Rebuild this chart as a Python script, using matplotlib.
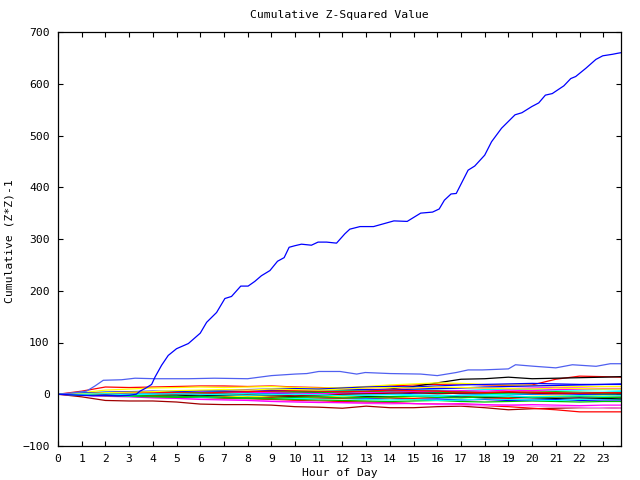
import matplotlib
matplotlib.use("Agg")
import matplotlib.pyplot as plt

# hourly grid shared by the small "band" series
HOURS = list(range(24)) + [23.75]

# the big blue outlier
BIG_X = [0, 0.5, 1, 1.5, 2, 2.5, 3, 3.3, 3.46, 3.67, 3.95, 4.09, 4.37, 4.65, 5.0, 5.5,
         6.0, 6.27, 6.69, 7.04, 7.32, 7.71, 8.02, 8.3, 8.58, 8.94, 9.26, 9.54, 9.75, 9.99,
         10.27, 10.69, 10.97, 11.33, 11.75, 12.1, 12.31, 12.74, 13.31, 14.17, 14.73, 15.3,
         15.8, 16.08, 16.3, 16.58, 16.8, 17.3, 17.58, 18.0, 18.29, 18.71, 19.28, 19.57,
         19.99, 20.28, 20.56, 20.85, 21.34, 21.63, 21.84, 22.27, 22.69, 22.98, 23.4, 23.62,
         23.75]
BIG_Y = [0, -1, -2, -3, -2, -3, -2, 0, 6, 11, 19, 33, 56, 75, 88, 98,
         118, 139, 158, 185, 189, 209, 209, 218, 229, 239, 257, 264, 284, 287,
         290, 288, 294, 294, 292, 310, 319, 324, 324, 335, 334, 350,
         352, 358, 375, 387, 388, 433, 441, 462, 488, 514, 540, 544,
         556, 563, 578, 581, 596, 610, 614, 630, 647, 654, 657, 659,
         660]

# the light blue line sitting above the band
LB_X = [0, 0.5, 1.2, 1.56, 1.91, 2.68, 3.25, 4.09, 5.5, 6.6, 8.0, 9.0, 10.0, 10.5, 11.0,
        11.9, 12.6, 12.96, 14.0, 15.3, 16.0, 16.8, 17.3, 17.9, 19.0, 19.3, 20.1, 21.0,
        21.7, 22.7, 23.3, 23.75]
LB_Y = [0, 2, 6, 16, 27, 28, 31, 30, 30, 31, 30, 36, 39, 40, 44,
        44, 39, 42, 40, 39, 36, 42, 47, 47, 49, 57, 54, 51,
        57, 54, 59, 59]

# the band of stations near zero, one list per station (values at HOURS)
BAND = [
    ("#ff0000", [0, 6, 14, 13, 14, 15, 16, 16, 15, 16, 14, 13, 12, 14, 16, 18, 19, 20, 18, 17, 18, 29, 35, 34, 33]),
    ("#000000", [0, 1, 2, 1, 0, 1, 2, 3, 2, 3, 4, 5, 6, 8, 10, 15, 22, 29, 30, 33, 30, 31, 32, 33, 34]),
    ("#ffff00", [0, 3, 8, 10, 12, 13, 14, 13, 14, 15, 13, 12, 13, 15, 18, 20, 22, 21, 19, 18, 17, 16, 15, 15, 15]),
    ("#0000ff", [0, 2, 3, 4, 5, 4, 6, 8, 9, 10, 11, 10, 12, 14, 15, 14, 16, 18, 19, 20, 21, 20, 19, 19, 19]),
    ("#ff00ff", [0, 1, 3, 5, 4, 6, 5, 7, 8, 6, 7, 8, 9, 10, 9, 11, 12, 13, 12, 11, 12, 13, 12, 11, 11]),
    ("#00ffff", [0, 2, 4, 3, 5, 6, 7, 6, 5, 6, 8, 7, 6, 7, 8, 9, 8, 7, 9, 10, 9, 8, 8, 9, 8]),
    ("#00c000", [0, 1, 2, 3, 2, 1, 3, 4, 5, 4, 3, 5, 6, 5, 4, 6, 7, 5, 4, 3, 4, 5, 4, 3, 4]),
    ("#a00000", [0, -5, -12, -13, -13, -15, -19, -20, -20, -21, -24, -25, -27, -23, -26, -26, -24, -23, -26, -30, -28, -27, -26, -26, -27]),
    ("#ff0000", [0, -1, -2, -3, -4, -5, -6, -8, -9, -10, -12, -13, -14, -15, -16, -18, -19, -20, -22, -24, -27, -30, -34, -34, -34]),
    ("#ff80ff", [0, -1, -3, -4, -6, -8, -9, -10, -11, -13, -14, -15, -17, -18, -19, -18, -20, -21, -22, -21, -23, -24, -25, -26, -27]),
    ("#ff00ff", [0, -2, -4, -5, -7, -8, -10, -11, -12, -14, -15, -16, -16, -17, -17, -18, -19, -18, -20, -21, -20, -21, -22, -21, -21]),
    ("#00c000", [0, -1, -2, -4, -5, -6, -6, -7, -8, -9, -10, -11, -12, -13, -14, -13, -12, -14, -15, -14, -13, -14, -15, -14, -14]),
    ("#0000ff", [0, -1, -2, -2, -3, -4, -3, -5, -6, -5, -7, -6, -8, -9, -8, -10, -9, -11, -10, -12, -11, -10, -12, -11, -11]),
    ("#00ffff", [0, 0, -1, -3, -2, -4, -5, -6, -5, -7, -8, -9, -8, -10, -11, -10, -12, -11, -9, -10, -11, -12, -10, -9, -10]),
    ("#ff0000", [0, 1, 0, -1, -2, -3, -2, -4, -5, -6, -5, -7, -8, -6, -7, -8, -6, -5, -7, -8, -6, -5, -4, -5, -5]),
    ("#ffff00", [0, -1, -2, -1, -3, -2, -4, -3, -5, -4, -6, -5, -4, -6, -7, -5, -4, -3, -5, -6, -4, -3, -2, -3, -2]),
    ("#000000", [0, -1, -1, -2, -1, -2, -3, -2, -1, -3, -4, -3, -2, -4, -5, -4, -3, -5, -6, -5, -7, -8, -7, -8, -9]),
    ("#0000ff", [0, 1, 1, 2, 1, 0, -1, 0, 1, 2, 1, 3, 2, 1, 0, 2, 3, 1, 0, -1, 0, 1, 0, 0, 0]),
    ("#00c000", [0, 1, 2, 2, 3, 4, 3, 2, 3, 4, 5, 4, 3, 5, 6, 5, 4, 3, 2, 1, 2, 3, 2, 1, 1]),
    ("#ff00ff", [0, 0, 1, 2, 3, 2, 1, 3, 4, 3, 2, 1, 2, 3, 4, 5, 6, 7, 6, 8, 7, 9, 10, 11, 11]),
    ("#00ffff", [0, -1, 0, 1, 0, -1, 1, 2, 1, 0, -1, -2, -1, 0, 1, -1, -2, -3, -1, 0, 1, 2, 3, 4, 5]),
    ("#a00000", [0, 0, -1, -2, -1, 0, 1, 0, -1, -2, -3, -2, 0, 1, 2, 3, 1, 2, 3, 4, 2, 1, 2, 3, 2]),
    ("#0000ff", [0, 2, 4, 5, 6, 5, 7, 6, 5, 7, 8, 9, 10, 9, 8, 10, 11, 12, 14, 15, 16, 17, 18, 19, 20]),
    ("#ff0000", [0, 1, 2, 3, 4, 3, 2, 4, 5, 6, 7, 6, 5, 6, 8, 7, 6, 4, 3, 5, 4, 3, 2, 3, 3]),
    ("#00c000", [0, -1, -3, -2, -4, -5, -4, -6, -7, -8, -6, -5, -7, -6, -5, -4, -6, -7, -5, -4, -6, -5, -4, -6, -6]),
    ("#ffff00", [0, 1, 3, 4, 5, 7, 8, 9, 8, 10, 9, 8, 10, 12, 13, 12, 14, 13, 12, 11, 10, 12, 11, 10, 10]),
    ("#00ffff", [0, 0, 1, -1, 0, 1, 0, -1, -2, -1, 0, -1, -3, -2, -1, -3, -4, -2, -3, -4, -5, -4, -3, -4, -3]),
]

X_TICKS = list(range(24))
Y_TICKS = list(range(-100, 701, 100))

FONT = "DejaVu Sans Mono"
FS = 8.2


def main() -> None:
    fig = plt.figure(figsize=(6.4, 4.8), dpi=100)
    ax = fig.add_axes([58 / 640, 34 / 480, 563 / 640, 414 / 480])

    for color, vals in BAND:
        ax.plot(HOURS, vals, color=color, lw=0.9)
    ax.plot(LB_X, LB_Y, color="#5060f0", lw=0.9)
    ax.plot(BIG_X, BIG_Y, color="#0000ff", lw=0.9)

    ax.set_xlim(0, 23.75)
    ax.set_ylim(-100, 700)
    ax.set_xticks(X_TICKS)
    ax.set_yticks(Y_TICKS)
    ax.tick_params(direction="in", length=3.6, width=0.8, top=True, right=True,
                   pad=6, labelsize=FS)
    for lab in ax.get_xticklabels() + ax.get_yticklabels():
        lab.set_family(FONT)
    for sp in ax.spines.values():
        sp.set_linewidth(0.9)

    fig.text(339.5 / 640, 1 - 15 / 480, "Cumulative Z-Squared Value",
             ha="center", va="center", family=FONT, fontsize=FS)
    fig.text(339.5 / 640, 1 - 473 / 480, "Hour of Day",
             ha="center", va="center", family=FONT, fontsize=FS)
    fig.text(10 / 640, 1 - 241 / 480, "Cumulative (Z*Z)-1", rotation=90,
             ha="center", va="center", family=FONT, fontsize=FS)

    fig.savefig("out.png", dpi=100)


if __name__ == "__main__":
    main()
